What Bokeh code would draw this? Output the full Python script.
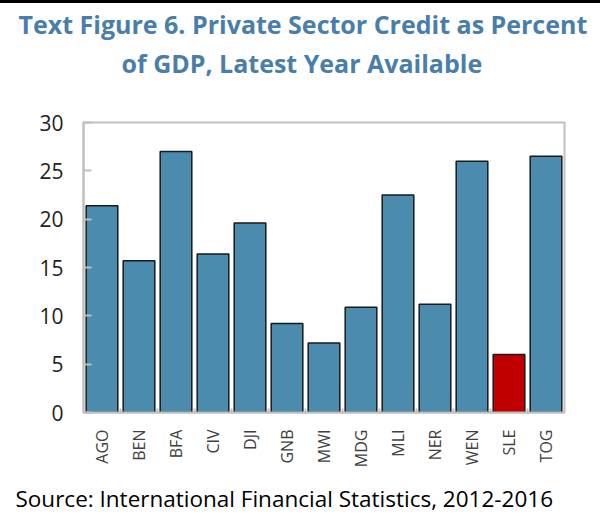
from bokeh.plotting import figure
from bokeh.models import FixedTicker, Title
from bokeh.embed import file_html
from bokeh.resources import INLINE
import math

countries = ["AGO", "BEN", "BFA", "CIV", "DJI", "GNB", "MWI", "MDG", "MLI", "NER", "WEN", "SLE", "TOG"]
credit = [21.4, 15.7, 27.0, 16.4, 19.6, 9.2, 7.2, 10.9, 22.5, 11.2, 26.0, 6.0, 26.5]
highlight = "SLE"
y_ticks = [0, 5, 10, 15, 20, 25, 30]

BLUE = "#4A8BAE"
RED = "#C00000"
GRAY = "#BFBFBF"
TITLE_C = "#4A7EAA"

xs = list(range(len(countries)))
colors = [RED if c == highlight else BLUE for c in countries]

p = figure(width=600, height=520, output_backend="svg", toolbar_location=None,
           x_range=(-0.5, len(countries) - 0.5), y_range=(0, 30),
           min_border_left=83, min_border_right=36, min_border_top=119, min_border_bottom=110,
           styles={"border-top": "3px solid #000000"})

p.vbar(x=xs, top=credit, width=0.855, fill_color=colors, line_color="#1a1a1a", line_width=1.5)

p.xgrid.visible = False
p.ygrid.visible = False
p.outline_line_color = GRAY
p.outline_line_width = 2

# y axis
p.yaxis.ticker = FixedTicker(ticks=y_ticks)
p.yaxis.axis_line_color = GRAY
p.yaxis.axis_line_width = 2
p.yaxis.major_tick_in = 8
p.yaxis.major_tick_out = 0
p.yaxis.major_tick_line_color = GRAY
p.yaxis.major_tick_line_width = 2
p.yaxis.minor_tick_line_color = None
p.yaxis.major_label_text_font = "Open Sans"
p.yaxis.major_label_text_font_size = "21px"
p.yaxis.major_label_text_color = "#222222"
p.yaxis.major_label_standoff = 20

# x axis
p.xaxis.ticker = FixedTicker(ticks=xs, minor_ticks=[i + 0.5 for i in xs[:-1]])
p.xaxis.major_label_overrides = {i: c for i, c in zip(xs, countries)}
p.xaxis.major_label_orientation = math.pi / 2
p.xaxis.axis_line_color = GRAY
p.xaxis.axis_line_width = 2
p.xaxis.major_tick_line_color = None
p.xaxis.minor_tick_in = 4
p.xaxis.minor_tick_out = 0
p.xaxis.minor_tick_line_color = GRAY
p.xaxis.minor_tick_line_width = 2
p.xaxis.major_label_text_font = "Open Sans"
p.xaxis.major_label_text_font_size = "16px"
p.xaxis.major_label_text_color = "#404040"
p.xaxis.major_label_standoff = 11

# titles (first added sits closest to the frame); first one is a blank spacer
p.add_layout(Title(text=" ", align="left", text_font="Open Sans", text_font_size="10px",
                   standoff=24), "above")
p.add_layout(Title(text="of GDP, Latest Year Available", align="left",
                   text_font="Open Sans", text_font_style="bold", text_font_size="25px",
                   text_color=TITLE_C, standoff=6, offset=38), "above")
p.add_layout(Title(text="Text Figure 6. Private Sector Credit as Percent", align="left",
                   text_font="Open Sans", text_font_style="bold", text_font_size="25px",
                   text_color=TITLE_C, standoff=0, offset=-65), "above")
p.add_layout(Title(text="Source: International Financial Statistics, 2012-2016", align="left",
                   text_font="Open Sans", text_font_style="normal", text_font_size="22.5px",
                   text_color="#000000", standoff=20, offset=-68), "below")

open("out.html", "w").write(file_html(p, INLINE))
